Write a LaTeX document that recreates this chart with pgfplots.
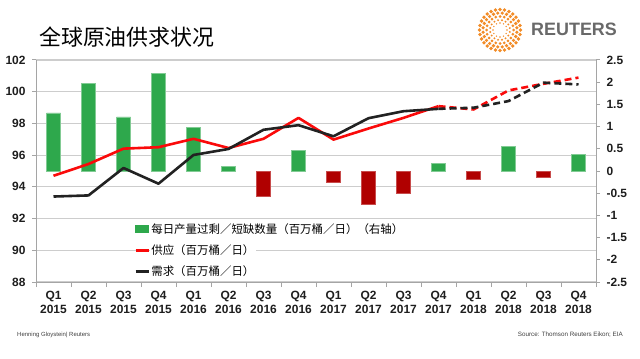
\documentclass[border=0pt]{standalone}
\usepackage{pgfplots}
\pgfplotsset{compat=1.18}
\usepackage{fontspec}
\setmainfont{Liberation Sans}
\newfontfamily\cjk{Noto Sans CJK SC}
\definecolor{barG}{RGB}{46,168,76}
\definecolor{barR}{RGB}{176,0,0}
\definecolor{lnR}{RGB}{250,10,10}
\definecolor{lnK}{RGB}{34,34,34}
\definecolor{axG}{RGB}{165,165,165}
\definecolor{grd}{RGB}{205,205,205}
\definecolor{rtO}{RGB}{242,140,40}
\definecolor{rtG}{RGB}{105,105,105}
\definecolor{tkC}{RGB}{30,30,30}
\begin{document}
\begin{tikzpicture}[x=1bp,y=1bp]
\path[use as bounding box] (0,0) rectangle (640,358);
\pgfplotsset{every axis/.append style={scale only axis, width=560bp, height=222bp,
  at={(36bp,76bp)}, anchor=south west, xmin=-0.5, xmax=15.5,
  /pgf/number format/assume math mode=true,
  tick label style={font=\bfseries\fontsize{12}{14}\selectfont, text=tkC}}}
% axis 1: left axis, grid, x labels
\begin{axis}[
  axis x line*=bottom, axis y line*=left,
  ymin=88, ymax=102, ytick={88,90,92,94,96,98,100,102},
  xtick={0,...,15},
  xticklabels={Q1\\2015,Q2\\2015,Q3\\2015,Q4\\2015,Q1\\2016,Q2\\2016,Q3\\2016,Q4\\2016,
               Q1\\2017,Q2\\2017,Q3\\2017,Q4\\2017,Q1\\2018,Q2\\2018,Q3\\2018,Q4\\2018},
  xticklabel style={align=center, yshift=-2bp},
  minor xtick={-0.5,0.5,...,15.5},
  major x tick style={draw=none},
  tick align=outside,
  ymajorgrids, grid style={grd, line width=1.1bp},
  axis line style={axG, line width=1bp},
  every tick/.style={axG, line width=1bp},
  major tick length=4bp, minor tick length=5bp,
  yticklabel style={xshift=-3bp},
]
\addplot[draw=none, forget plot] coordinates {(0,95)};
\end{axis}
% axis 2: right axis, bars
\begin{axis}[
  hide x axis, axis y line*=right,
  ymin=-2.5, ymax=2.5,
  ytick={-2.5,-2,-1.5,-1,-0.5,0,0.5,1,1.5,2,2.5},
  yticklabels={-2.5,-2,-1.5,-1,-0.5,0,0.5,1,1.5,2,2.5},
  yticklabel style={xshift=3bp},
  tick align=outside,
  axis line style={axG, line width=1bp},
  every tick/.style={axG, line width=1bp},
  major tick length=4bp,
  ybar, bar width=14bp,
]
\addplot[fill=barG, draw=barG!60!white, line width=0.5bp, bar shift=0pt] coordinates {
  (0,1.31) (1,1.97) (2,1.22) (3,2.20) (4,0.98) (5,0.10) (7,0.47)
  (11,0.17) (13,0.55) (15,0.38)};
\addplot[fill=barR, draw=barR!70!white, line width=0.5bp, bar shift=0pt] coordinates {
  (6,-0.56) (8,-0.26) (9,-0.74) (10,-0.50) (12,-0.19) (14,-0.13)};
\end{axis}
% axis 3: lines + legend
\begin{axis}[
  hide axis, ymin=88, ymax=102,
  legend cell align=left,
  legend style={at={(0.175,0.272)}, anchor=north west, draw=none, fill=none,
    font=\cjk\fontsize{11.5}{12}\selectfont, row sep=7bp, inner sep=0pt,
    nodes={fill=white, inner sep=1.5bp}},
]
\addplot[lnR, line width=2.6bp, line join=round, forget plot] coordinates {
  (0,94.70) (1,95.44) (2,96.41) (3,96.50) (4,97.03) (5,96.45) (6,97.03) (7,98.35)
  (8,96.98) (9,97.68) (10,98.35) (11,99.09)};
\addplot[lnR, line width=2.6bp, line join=round, dash pattern=on 7bp off 4bp, forget plot] coordinates {
  (11,99.09) (12,98.88) (13,100.08) (14,100.50) (15,100.89)};
\addplot[lnK, line width=2.6bp, line join=round, forget plot] coordinates {
  (0,93.39) (1,93.46) (2,95.19) (3,94.20) (4,96.01) (5,96.39) (6,97.60) (7,97.89)
  (8,97.19) (9,98.33) (10,98.77) (11,98.92)};
\addplot[lnK, line width=2.6bp, line join=round, dash pattern=on 7bp off 4bp, forget plot] coordinates {
  (11,98.92) (12,98.99) (13,99.41) (14,100.57) (15,100.46)};
\addlegendimage{legend image code/.code={\fill[barG] (0bp,-3.5bp) rectangle (13bp,3.5bp);}}
\addlegendentry{每日产量过剩／短缺数量（百万桶／日）（右轴）}
\addlegendimage{legend image code/.code={\draw[lnR, line width=2.6bp] (0bp,0bp) -- (13bp,0bp);}}
\addlegendentry{供应（百万桶／日）}
\addlegendimage{legend image code/.code={\draw[lnK, line width=2.6bp] (0bp,0bp) -- (13bp,0bp);}}
\addlegendentry{需求（百万桶／日）}
\end{axis}
% title
\node[anchor=west, inner sep=0pt, font=\cjk\fontsize{22}{22}\selectfont] at (39,321) {全球原油供求状况};
% logo
\foreach \r/\n/\s/\o in {7/12/0.8/0, 10/16/1.1/11.25, 13.5/20/1.5/0, 17/24/1.8/7.5, 20.5/28/1.9/0}{
  \foreach \i in {1,...,\n}{
    \fill[rtO] ({500+\r*cos(\o+360*\i/\n)},{328+\r*sin(\o+360*\i/\n)}) circle (\s);
  }
}
\node[anchor=west, inner sep=0pt, text=rtG, font=\bfseries\fontsize{18}{18}\selectfont] at (531,329) {REUTERS};
% footer
\node[anchor=west, inner sep=0pt, text=black!75, font=\fontsize{6}{6}\selectfont] at (17,23) {Henning Gloystein| Reuters};
\node[anchor=east, inner sep=0pt, text=black!75, font=\fontsize{6.3}{6.3}\selectfont] at (623,23) {Source: Thomson Reuters Eikon; EIA};
\end{tikzpicture}
\end{document}
